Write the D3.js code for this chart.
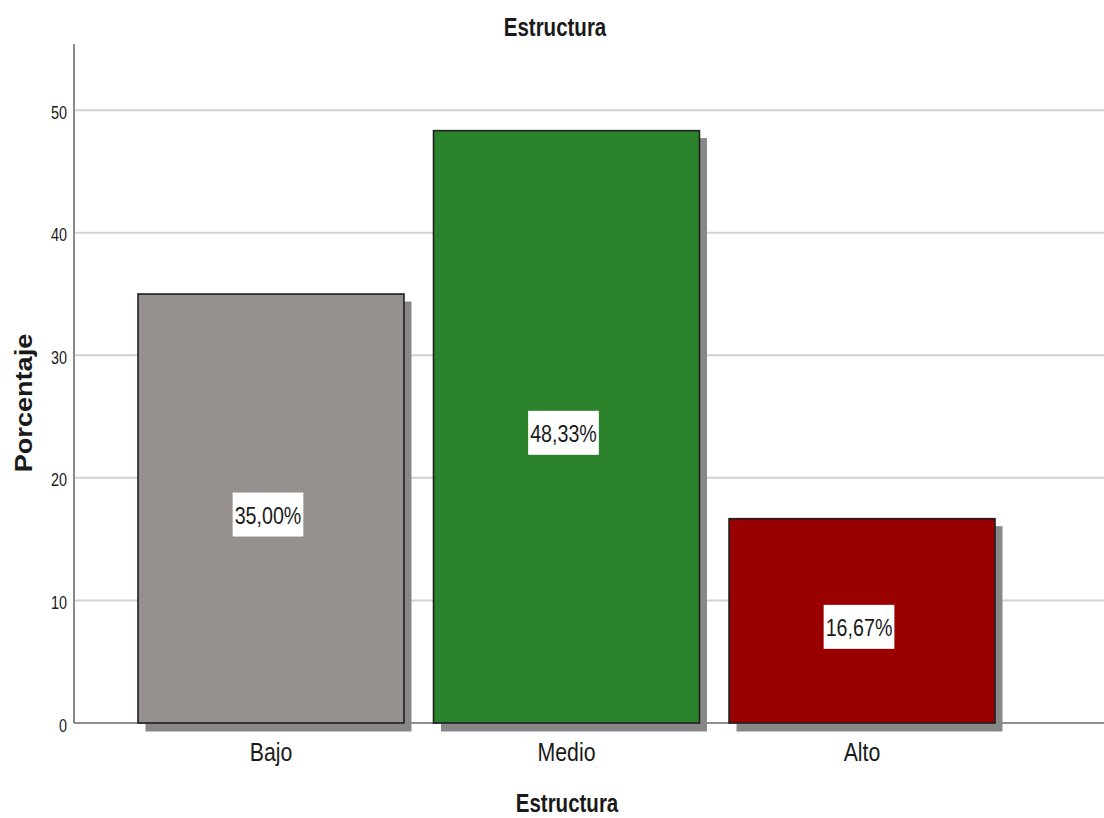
<!DOCTYPE html>
<html>
<head>
<meta charset="utf-8">
<script src="https://cdn.jsdelivr.net/npm/d3@7"></script>
<style>
  html, body { margin: 0; padding: 0; background: #ffffff; }
  svg { display: block; }
  text { font-family: "Liberation Sans", Arial, sans-serif; fill: #1a1a1a; }
</style>
</head>
<body>
<svg id="chart" width="1104" height="818"></svg>
<script>
// Percentage of cases per level of "Estructura"
const categories = ["Bajo", "Medio", "Alto"];
const percentages = [35.00, 48.33, 16.67];
const valueLabels = ["35,00%", "48,33%", "16,67%"];
const barColors = ["#958f8d", "#2a832a", "#990000"];
const yTicks = [0, 10, 20, 30, 40, 50];

const chartTitle = "Estructura";
const xTitle = "Estructura";
const yTitle = "Porcentaje";

const W = 1104, H = 818;
const NARROW = 0.82;          // horizontal squeeze giving a condensed face
const SHADOW = 7.5;           // drop-shadow offset behind each bar

const svg = d3.select("#chart");

const axisX = 74, plotRight = 1104, baseY = 723, topY = 44;

const y = d3.scaleLinear().domain([0, 55.4]).range([baseY, topY]);
const x = d3.scaleBand()
  .domain(categories)
  .range([axisX, 1059])
  .paddingInner(0.1)
  .paddingOuter(0.2166);

// horizontal gridlines
svg.append("g")
  .selectAll("line")
  .data(yTicks.filter(t => t > 0))
  .join("line")
  .attr("x1", axisX).attr("x2", plotRight)
  .attr("y1", d => y(d)).attr("y2", d => y(d))
  .attr("stroke", "#d2d2d2")
  .attr("stroke-width", 2);

// y axis line
svg.append("line")
  .attr("x1", axisX).attr("x2", axisX)
  .attr("y1", topY).attr("y2", baseY)
  .attr("stroke", "#8a8a8a").attr("stroke-width", 2);

// baseline
svg.append("line")
  .attr("x1", axisX).attr("x2", plotRight)
  .attr("y1", baseY).attr("y2", baseY)
  .attr("stroke", "#6a6a6a").attr("stroke-width", 1.6);

// tick labels
const yAxis = svg.append("g")
  .attr("transform", `translate(${axisX},0)`)
  .call(d3.axisLeft(y).tickValues(yTicks).tickSize(0).tickPadding(0).tickFormat(d3.format("d")));
yAxis.select(".domain").remove();
yAxis.selectAll("text")
  .attr("x", 0).attr("dy", null)
  .attr("y", 0)
  .attr("font-size", 18)
  .attr("font-family", "'Liberation Sans', Arial, sans-serif")
  .attr("fill", "#1a1a1a")
  .attr("text-anchor", "end")
  .attr("transform", `translate(-7,8) scale(0.8,1)`);

const data = categories.map((c, i) => ({ c, v: percentages[i], label: valueLabels[i], color: barColors[i] }));

// shadows
svg.append("g")
  .selectAll("rect")
  .data(data)
  .join("rect")
  .attr("x", d => x(d.c) + SHADOW)
  .attr("y", d => y(d.v) + SHADOW)
  .attr("width", x.bandwidth())
  .attr("height", d => baseY - y(d.v) + 1)
  .attr("fill", "#878787");

// bars
svg.append("g")
  .selectAll("rect")
  .data(data)
  .join("rect")
  .attr("x", d => x(d.c))
  .attr("y", d => y(d.v))
  .attr("width", x.bandwidth())
  .attr("height", d => baseY - y(d.v))
  .attr("fill", d => d.color)
  .attr("stroke", "#1e1e1e")
  .attr("stroke-width", 1.6);

// value labels in white boxes
const lab = svg.append("g")
  .selectAll("g")
  .data(data)
  .join("g")
  .attr("transform", d => `translate(${x(d.c) + x.bandwidth() / 2 - 3},${(y(d.v) + baseY) / 2 + 6})`);

lab.append("rect").attr("fill", "#ffffff");
lab.append("text")
  .attr("text-anchor", "middle")
  .attr("font-size", 24)
  .attr("transform", `translate(0,9) scale(${NARROW},1)`)
  .text(d => d.label);
lab.each(function () {
  const g = d3.select(this);
  const bb = g.select("text").node().getBBox();
  const w = bb.width * NARROW + 4;
  const h = 44;
  g.select("rect")
    .attr("x", -w / 2).attr("y", -h / 2)
    .attr("width", w).attr("height", h);
});

// category labels
svg.append("g")
  .selectAll("text")
  .data(categories)
  .join("text")
  .attr("text-anchor", "middle")
  .attr("font-size", 26)
  .attr("fill", "#2a2a2a")
  .attr("transform", d => `translate(${x(d) + x.bandwidth() / 2},761) scale(${NARROW},1)`)
  .text(d => d);

// titles
svg.append("text")
  .attr("text-anchor", "middle")
  .attr("font-size", 25)
  .attr("font-weight", "bold")
  .attr("fill", "#000")
  .attr("transform", `translate(555,36) scale(${NARROW},1)`)
  .text(chartTitle);

svg.append("text")
  .attr("text-anchor", "middle")
  .attr("font-size", 25)
  .attr("font-weight", "bold")
  .attr("fill", "#000")
  .attr("transform", `translate(567,812) scale(${NARROW},1)`)
  .text(xTitle);

svg.append("text")
  .attr("text-anchor", "middle")
  .attr("font-size", 24)
  .attr("font-weight", "bold")
  .attr("fill", "#000")
  .attr("transform", `translate(32,403) rotate(-90) scale(1.13,1)`)
  .text(yTitle);
</script>
</body>
</html>
